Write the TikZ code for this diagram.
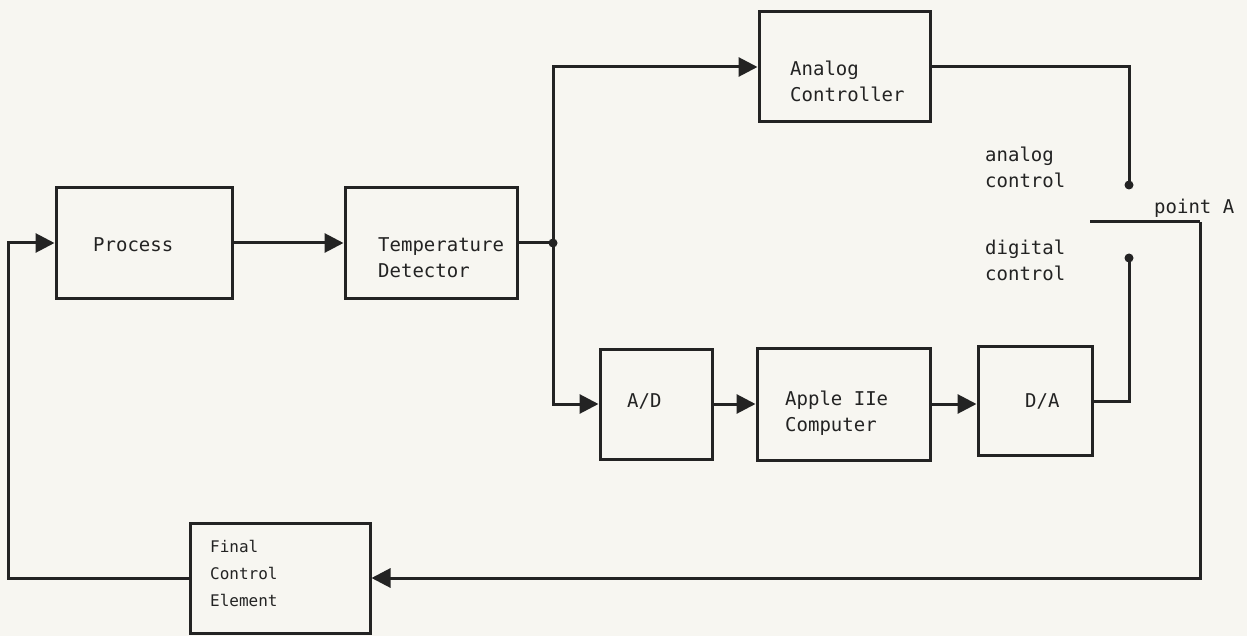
\documentclass[tikz,border=0pt]{standalone}
\usepackage{fontspec}
\setmonofont{DejaVu Sans Mono}
\usetikzlibrary{arrows.meta}
\definecolor{ink}{RGB}{35,35,35}
\definecolor{paper}{RGB}{247,246,241}
\begin{document}
\begin{tikzpicture}[x=1pt,y=-1pt,
  box/.style={draw=ink,line width=3pt,inner sep=0pt},
  txt/.style={font=\ttfamily\fontsize{19}{26}\selectfont,text=ink,inner sep=0pt,align=left,anchor=west},
  small/.style={font=\ttfamily\fontsize{16}{27}\selectfont,text=ink,inner sep=0pt,align=left,anchor=west},
  wire/.style={draw=ink,line width=3pt},
  arr/.style={wire,-{Triangle[length=19pt,width=19pt]}},
  dot/.style={fill=ink}]
\fill[paper] (0,0) rectangle (1247,636);
\useasboundingbox (0,0) rectangle (1247,636);
% boxes
\node[box,minimum width=176pt,minimum height=110pt] (proc) at (144,243) {};
\node[box,minimum width=172pt,minimum height=110pt] (temp) at (431,243) {};
\node[box,minimum width=171pt,minimum height=110pt] (anal) at (844.5,67) {};
\node[box,minimum width=112pt,minimum height=110pt] (ad) at (656,404) {};
\node[box,minimum width=173pt,minimum height=112pt] (apple) at (843.5,404) {};
\node[box,minimum width=114pt,minimum height=109pt] (da) at (1035,401) {};
\node[box,minimum width=180pt,minimum height=110pt] (fce) at (280,578) {};
% texts
\node[txt] (tproc) at (93,245) {Process};
\node[txt] (ttemp) at (378,258) {Temperature\\Detector};
\node[txt] (tanal) at (790,81) {Analog\\Controller};
\node[txt] (tac) at (985,167) {analog\\control};
\node[txt] (tdc) at (985,260) {digital\\control};
\node[txt] (tpa) at (1154,208) {point A};
\node[txt] (tad) at (627,401) {A/D};
\node[txt] (tapple) at (785,413) {Apple IIe\\Computer};
\node[txt] (tda) at (1025,401) {D/A};
\node[small] (tfce) at (210,573) {Final\\Control\\Element};
% coordinates
\coordinate (j) at (553,243);
\coordinate (sa) at (1129,185);
\coordinate (sd) at (1129,258);
\coordinate (pa) at (1090,222);
\coordinate (pr) at (1200,222);
\coordinate (fl) at (8,243);
% connectors
\draw[arr] (proc.east) -- (temp.west);
\draw[wire] (temp.east) -- (j);
\draw[arr] (j) |- (anal.west);
\draw[arr] (j) |- (ad.west);
\draw[arr] (ad.east) -- (apple.west |- ad.east);
\draw[arr] (apple.east |- ad.east) -- (da.west |- ad.east);
\draw[wire] (da.east) -| (sd);
\draw[wire] (anal.east) -| (sa);
\fill[dot] (j) circle (4.5);
\fill[dot] (sa) circle (4.5);
\fill[dot] (sd) circle (4.5);
\draw[wire] (pa) -- (pr);
\draw[arr] (pr) |- (fce.east);
\draw[arr] (fce.west) -| (fl) -- (proc.west);
\end{tikzpicture}
\end{document}
